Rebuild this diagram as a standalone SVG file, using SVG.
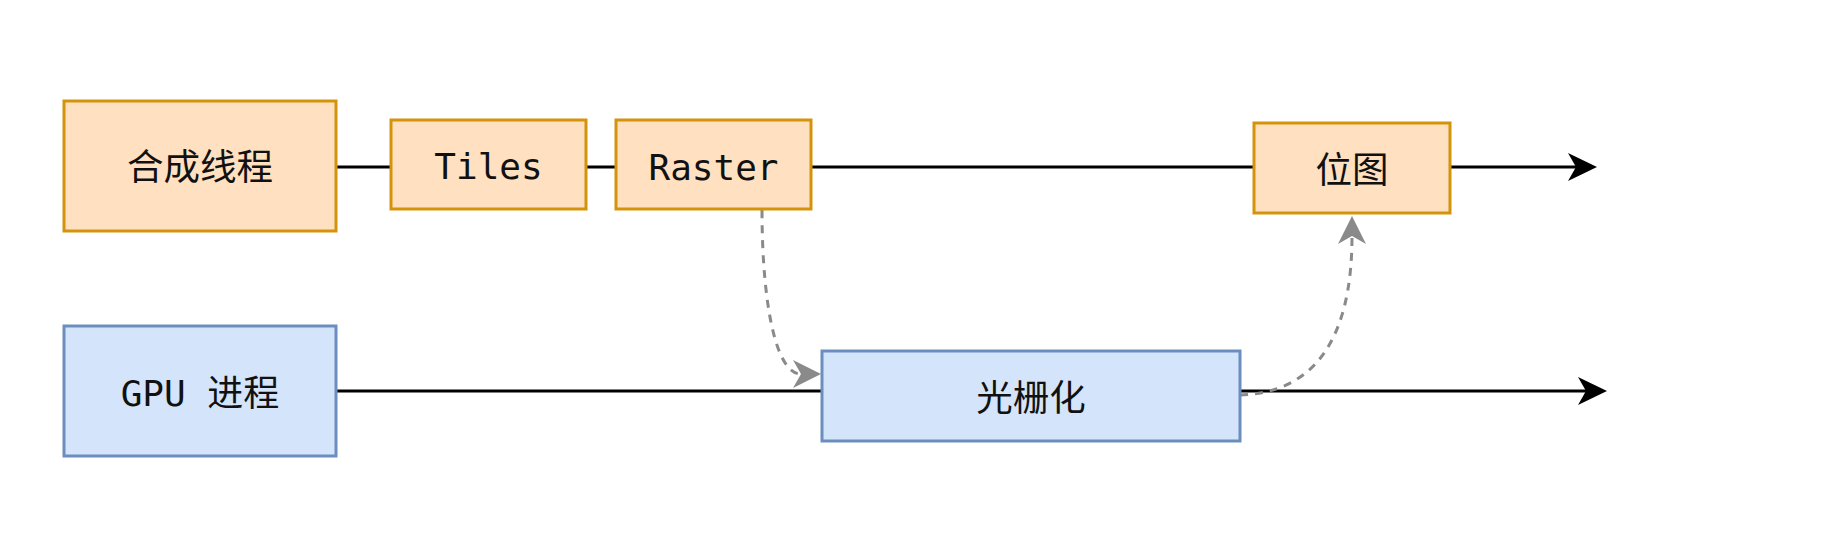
<svg xmlns="http://www.w3.org/2000/svg" width="1846" height="552" viewBox="0 0 1846 552">
<style>
.orange{fill:#ffe0c0;stroke:#d4930a;stroke-width:3}
.blue{fill:#d4e4fa;stroke:#6c8ebf;stroke-width:3}
.cjk{font-family:"Noto Sans CJK SC","Noto Sans",sans-serif;font-size:36.5px;fill:#111;text-anchor:middle}
.mono{font-family:"DejaVu Sans Mono","Liberation Mono","Noto Sans CJK SC",monospace;font-size:36px;fill:#111;text-anchor:middle}
.line{fill:none;stroke:#000;stroke-width:2.8}
.dash{fill:none;stroke:#8a8a8a;stroke-width:3;stroke-dasharray:8 7}
</style>
<defs>
<marker id="arrBlack" markerUnits="userSpaceOnUse" markerWidth="30" markerHeight="30" refX="8" refY="14" orient="auto" viewBox="0 0 30 28">
<path d="M0,0 L29,14 L0,28 L8,14 Z" fill="#000"/>
</marker>
<marker id="arrGray" markerUnits="userSpaceOnUse" markerWidth="30" markerHeight="30" refX="8" refY="14" orient="auto" viewBox="0 0 30 28">
<path d="M0,0 L28,14 L0,28 L8,14 Z" fill="#8a8a8a"/>
</marker>
</defs>
<rect width="1846" height="552" fill="#fff"/>
<g id="connectors">
<path class="line" d="M336,167 L1576,167" marker-end="url(#arrBlack)"/>
<path class="line" d="M336,391 L1586,391" marker-end="url(#arrBlack)"/>
<path class="dash" d="M762,210 C762,300 775,374 801,374" marker-end="url(#arrGray)"/>
<path class="dash" d="M1240,395 C1310,393 1352,345 1352,236" marker-end="url(#arrGray)"/>
</g>
<g id="node-compose">
<rect class="orange" x="64" y="101" width="272" height="130"/>
<text class="cjk" x="200" y="180">合成线程</text>
</g>
<g id="node-tiles">
<rect class="orange" x="391" y="120" width="195" height="89"/>
<text class="mono" x="488.5" y="179">Tiles</text>
</g>
<g id="node-raster">
<rect class="orange" x="616" y="120" width="195" height="89"/>
<text class="mono" x="713.5" y="180">Raster</text>
</g>
<g id="node-bitmap">
<rect class="orange" x="1254" y="123" width="196" height="90"/>
<text class="cjk" x="1352" y="183">位图</text>
</g>
<g id="node-gpu">
<rect class="blue" x="64" y="326" width="272" height="130"/>
<text class="mono" x="200" y="406">GPU 进程</text>
</g>
<g id="node-rasterize">
<rect class="blue" x="822" y="351" width="418" height="90"/>
<text class="cjk" x="1031" y="411">光栅化</text>
</g>
</svg>
